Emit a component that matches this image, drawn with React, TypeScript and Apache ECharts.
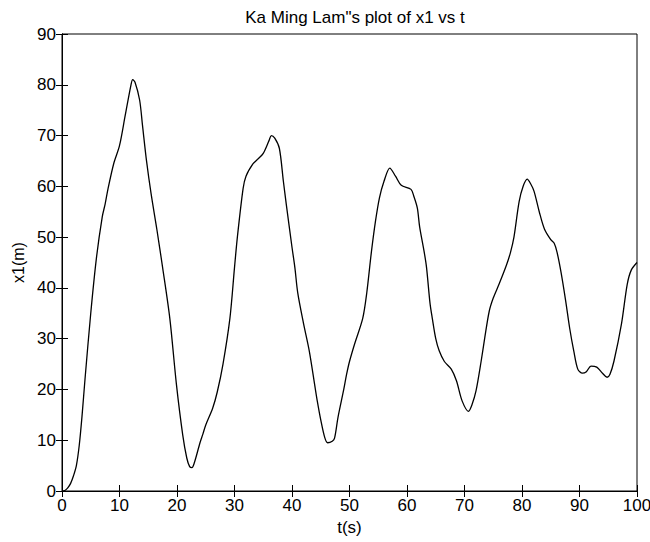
import React, { useEffect, useRef } from "react";
import * as echarts from "echarts";

const tValues = [
  0, 0.5, 1, 1.5, 2, 2.5, 3, 3.5, 4, 5, 6, 7, 7.5, 8, 9, 10, 11, 12, 12.3, 12.7, 13.5, 14, 14.7, 15.5,
  16.5, 17.5, 18.75, 19.9, 21, 21.7, 22.2, 22.6, 23, 24, 24.5, 25, 26.2, 27, 28, 29.2, 30, 30.5,
  31.5, 32, 33.2, 34, 35, 36, 36.4, 37, 37.8, 38.5, 39, 40, 40.5, 41, 42, 43, 44, 44.4, 45, 45.7,
  46.2, 47, 47.4, 48, 49, 49.5, 50, 50.9, 52.3, 53, 53.8, 54.5, 55.2, 56, 57, 58, 59, 60.7, 61.2,
  61.8, 62.2, 63, 63.4, 64, 64.4, 65, 65.6, 66.5, 67.7, 68.6, 69.6, 70.7, 71.3, 72, 72.9, 73.5,
  74.3, 75, 76, 77.3, 78, 78.6, 79.5, 80.2, 80.9, 81.5, 82.1, 83, 83.9, 85, 85.6, 86.1, 86.8, 87.6,
  88.3, 89, 89.7, 90.5, 91.2, 92, 93, 94, 94.8, 95.3, 96, 97.3, 98.3, 99, 100,
];

const x1Values = [
  0, 0.1, 0.6, 1.5, 3, 5, 9, 15, 22, 35, 46, 54, 56.5, 59.5, 64.5, 68, 74, 80, 81, 80.5, 77, 72,
  65, 58.5, 51.5, 44, 34, 21, 11, 6.5, 4.8, 4.6, 5.5, 9.5, 11.2, 13, 16.3, 19.5, 25, 34, 44,
  50, 59.6, 62, 64.4, 65.3, 66.5, 69, 70, 69.5, 67.5, 61, 56.5, 48, 44, 39, 33, 27.6, 20.5, 17.7,
  14, 10.5, 9.5, 9.8, 10.4, 14.5, 20, 23, 25.5, 29, 34, 39, 47, 53, 57.7, 61, 63.6, 62, 60.2,
  59.4, 58, 55.7, 52, 47, 44, 37, 34, 30, 27.6, 25.5, 24, 21.7, 17.7, 15.7, 17, 19.7, 25.6, 30,
  35.4, 38, 40.7, 44.5, 47, 50, 57, 60, 61.4, 60.5, 59, 55, 51.6, 49.5, 48.8, 47, 43, 37.4, 32,
  27.6, 24, 23.2, 23.5, 24.6, 24.4, 23.2, 22.4, 23, 25.6, 32.9, 40.7, 43.5, 45,
];

const xTickLabels = ["0", "10", "20", "30", "40", "50", "60", "70", "80", "90", "100"];
const yTickLabels = ["0", "10", "20", "30", "40", "50", "60", "70", "80", "90"];

const titleText = 'Ka Ming Lam"s plot of x1 vs t';
const xName = "t(s)";
const yName = "x1(m)";

const FONT = "'Liberation Sans', Arial, sans-serif";

export default function App() {
  const ref = useRef<HTMLDivElement>(null);

  useEffect(() => {
    if (!ref.current) return;
    const chart = echarts.init(ref.current, null, { renderer: "svg" });
    const data = tValues.map((t, i) => [t, x1Values[i]]);
    const xMax = Number(xTickLabels[xTickLabels.length - 1]);
    const yMax = Number(yTickLabels[yTickLabels.length - 1]);
    const tick = { show: true, inside: true, length: 6, lineStyle: { color: "#000", width: 1 } };
    const line = { show: true, lineStyle: { color: "#000", width: 1 } };
    chart.setOption({
      animation: false,
      backgroundColor: "#fff",
      title: {
        text: titleText,
        left: 350,
        textAlign: "center",
        top: 4,
        textStyle: { fontFamily: FONT, fontSize: 17, fontWeight: "normal", color: "#000" },
      },
      grid: {
        left: 62,
        right: 13,
        top: 34,
        bottom: 51,
        show: true,
        borderColor: "#000",
        borderWidth: 1,
        outerBoundsMode: "none",
        containLabel: false,
      },
      xAxis: [
        {
          type: "value",
          min: 0,
          max: xMax,
          interval: 10,
          position: "bottom",
          axisLine: line,
          axisTick: tick,
          splitLine: { show: false },
          axisLabel: { fontFamily: FONT, fontSize: 17, color: "#000", margin: 6 },
          name: xName,
          nameLocation: "middle",
          nameGap: 24,
          nameTextStyle: { fontFamily: FONT, fontSize: 17, color: "#000" },
        },
        {
          type: "value",
          min: 0,
          max: xMax,
          interval: 10,
          position: "top",
          axisLine: line,
          axisTick: tick,
          splitLine: { show: false },
          axisLabel: { show: false },
        },
      ],
      yAxis: [
        {
          type: "value",
          min: 0,
          max: yMax,
          interval: 10,
          position: "left",
          axisLine: line,
          axisTick: tick,
          splitLine: { show: false },
          axisLabel: { fontFamily: FONT, fontSize: 17, color: "#000", margin: 6 },
          name: yName,
          nameLocation: "middle",
          nameGap: 34,
          nameTextStyle: { fontFamily: FONT, fontSize: 16, color: "#000" },
        },
        {
          type: "value",
          min: 0,
          max: yMax,
          interval: 10,
          position: "right",
          axisLine: line,
          axisTick: tick,
          splitLine: { show: false },
          axisLabel: { show: false },
        },
      ],
      series: [
        {
          type: "line",
          data,
          xAxisIndex: 0,
          yAxisIndex: 0,
          showSymbol: false,
          smooth: 0.3,
          lineStyle: { color: "#000", width: 1.3 },
        },
      ],
    });
    return () => chart.dispose();
  }, []);

  return <div ref={ref} style={{ width: 650, height: 542, position: "absolute", left: 0, top: 0 }} />;
}
